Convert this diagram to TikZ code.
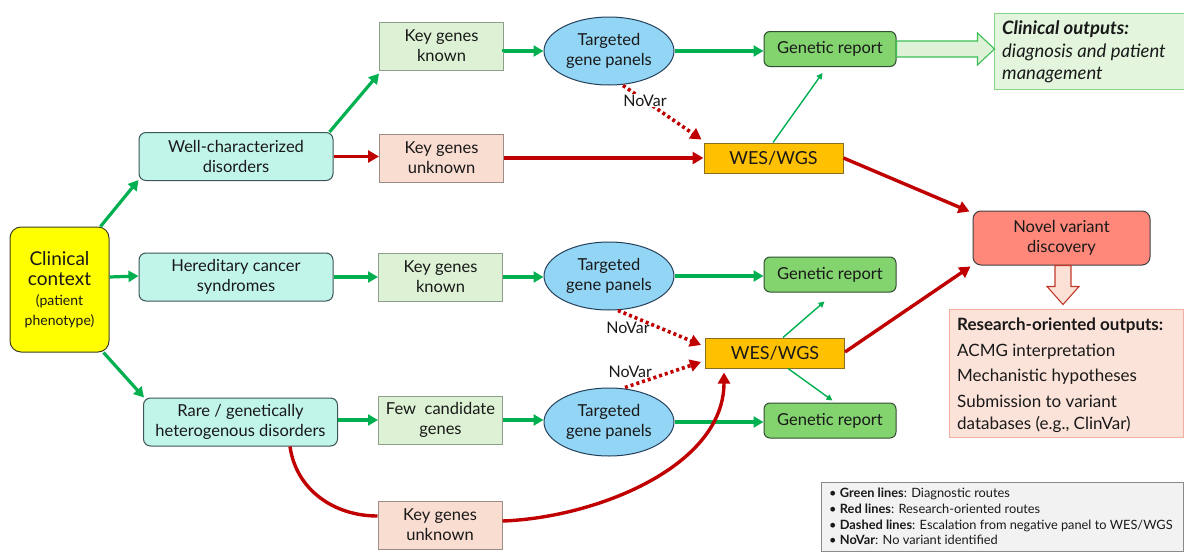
\documentclass[tikz,border=0pt]{standalone}
\usepackage{fontspec}
\setmainfont{Lato}
\usetikzlibrary{arrows.meta,shapes.geometric,calc}

\definecolor{gline}{HTML}{00B050}
\definecolor{rline}{HTML}{C00000}
\definecolor{catfill}{HTML}{C2F5EA}
\definecolor{catbd}{HTML}{3B5656}
\definecolor{kgkfill}{HTML}{DDF1D4}
\definecolor{kgkbd}{HTML}{8E9E8A}
\definecolor{kgufill}{HTML}{F9DDD1}
\definecolor{kgubd}{HTML}{9A8C86}
\definecolor{tpfill}{HTML}{93D5F5}
\definecolor{tpbd}{HTML}{24405A}
\definecolor{repfill}{HTML}{83D36F}
\definecolor{repbd}{HTML}{2F4F2F}
\definecolor{wesfill}{HTML}{FFC000}
\definecolor{wesbd}{HTML}{8C6E22}
\definecolor{novfill}{HTML}{FF887A}
\definecolor{novbd}{HTML}{404040}
\definecolor{ctxfill}{HTML}{FFFF00}
\definecolor{ctxbd}{HTML}{404020}
\definecolor{coutfill}{HTML}{E3F5DD}
\definecolor{coutbd}{HTML}{86D486}
\definecolor{harrfill}{HTML}{DDF2D6}
\definecolor{harrbd}{HTML}{3CBF55}
\definecolor{resfill}{HTML}{FCE3D9}
\definecolor{resbd}{HTML}{F2B0A5}
\definecolor{darrfill}{HTML}{FBE0D6}
\definecolor{darrbd}{HTML}{C0392B}
\definecolor{legfill}{HTML}{F2F2F2}
\definecolor{legbd}{HTML}{8A8A8A}

\newcommand{\ctxbig}{\fontsize{19}{23}\selectfont}
\newcommand{\ctxsmall}{\fontsize{14}{19}\selectfont}

\begin{document}
\begin{tikzpicture}[x=1pt,y=-1pt,
  base/.style={font=\fontsize{16.5}{20}\selectfont, align=center, inner sep=0pt, line width=1pt, text=black!90},
  cat/.style={base, draw=catbd, fill=catfill, rounded corners=7pt, minimum width=194pt, minimum height=48pt},
  kgk/.style={base, draw=kgkbd, fill=kgkfill, minimum width=124pt, minimum height=48pt},
  kgu/.style={base, draw=kgubd, fill=kgufill, minimum width=124pt, minimum height=48pt},
  tp/.style={base, ellipse, draw=tpbd, fill=tpfill, minimum width=130pt, minimum height=68pt},
  rep/.style={base, draw=repbd, fill=repfill, rounded corners=6pt, minimum width=132pt, minimum height=35pt},
  wes/.style={base, font=\fontsize{18}{20}\selectfont, draw=wesbd, fill=wesfill, minimum width=139pt, minimum height=30pt},
  garrow/.style={draw=gline, line width=3.2pt, -{Triangle[length=10pt,width=11pt]}},
  gthin/.style={draw=gline, line width=1.4pt, -{Triangle[length=6pt,width=6pt]}},
  rarrow/.style={draw=rline, line width=3.4pt, -{Triangle[length=11pt,width=12pt]}},
  rcurve/.style={draw=rline, line width=3.4pt},
  rdot/.style={draw=rline, line width=3.6pt, dash pattern=on 3pt off 3pt, -{Triangle[length=11pt,width=12pt]}},
  novar/.style={font=\fontsize{16}{18}\selectfont, inner sep=1pt, text=black!90}
]
\useasboundingbox (0,0) rectangle (1184,554);

% ---------- left column ----------
\node[base, draw=ctxbd, fill=ctxfill, rounded corners=11pt, minimum width=99pt, minimum height=125pt]
  (ctx) at (59.5,289.5)
  {\ctxbig Clinical\\\ctxbig context\\\ctxsmall (patient\\\ctxsmall phenotype)};

\node[cat] (well)  at (236,156.5) {Well-characterized\\disorders};
\node[cat] (hered) at (236,277)   {Hereditary cancer\\syndromes};
\node[cat] (rare)  at (240.5,422) {Rare / genetically\\heterogenous disorders};

% ---------- gene knowledge ----------
\node[kgk] (kgk1) at (441.5,46)  {Key genes\\known};
\node[kgu] (kgu1) at (441.5,158) {Key genes\\unknown};
\node[kgk] (kgk2) at (440.5,277) {Key genes\\known};
\node[kgk] (few)  at (440.5,420) {Few\ \ candidate\\genes};
\node[kgu] (kgu2) at (440,525)   {Key genes\\unknown};

% ---------- testing ----------
\node[tp] (tp1) at (609,51)  {Targeted\\gene panels};
\node[tp] (tp2) at (609,276) {Targeted\\gene panels};
\node[tp] (tp3) at (609,422) {Targeted\\gene panels};

\node[wes] (wes1) at (773.5,158) {WES/WGS};
\node[wes] (wes2) at (775,353)   {WES/WGS};

\node[rep] (rep1) at (830,49)    {Genetic report};
\node[rep] (rep2) at (830,274.5) {Genetic report};
\node[rep] (rep3) at (830,420.5) {Genetic report};

% ---------- outputs ----------
\node[base, draw=novbd, fill=novfill, rounded corners=8pt, minimum width=177pt, minimum height=54pt]
  (novel) at (1061.5,238) {Novel variant\\discovery};

\node[base, draw=coutbd, fill=coutfill, minimum width=190pt, minimum height=76pt] (cout) at (1089,51) {};
\node[font=\fontsize{18.5}{22.5}\selectfont\itshape, align=left, anchor=north west, inner sep=0pt, text=black!90]
  (couttext) at (1002,21) {\textbf{Clinical outputs:}\\diagnosis and patient\\management};

\node[base, draw=resbd, fill=resfill, minimum width=234pt, minimum height=128pt] (res) at (1066.5,373) {};
\node[font=\fontsize{17}{22}\selectfont, align=left, anchor=north west, inner sep=0pt, text=black!90]
  (restext) at (957,318) {\textbf{Research-oriented outputs:}\\[3.5pt]ACMG interpretation\\[3.5pt]Mechanistic hypotheses\\[3.5pt]Submission to variant\\databases (e.g., ClinVar)};

\node[base, draw=legbd, fill=legfill, minimum width=362pt, minimum height=69pt] (leg) at (1002,516.5) {};
\node[font=\fontsize{12.8}{15.8}\selectfont, align=left, anchor=west, inner sep=0pt, text=black!90]
  (legtext) at (829,516.5) {\textbullet\ \textbf{Green lines}: Diagnostic routes\\
  \textbullet\ \textbf{Red lines}: Research-oriented routes\\
  \textbullet\ \textbf{Dashed lines}: Escalation from negative panel to WES/WGS\\
  \textbullet\ \textbf{NoVar}: No variant identified};

% ---------- hollow block arrows ----------
\coordinate (ha) at (rep1.east);
\coordinate (ht) at (cout.west |- rep1.east);
\draw[draw=harrbd, fill=harrfill, line width=1.1pt, line join=miter]
  ($(ha)+(0,-8)$) -- ($(ht)+(-16,-8)$) -- ($(ht)+(-16,-16)$) -- ($(ht)+(1,0)$)
  -- ($(ht)+(-16,16)$) -- ($(ht)+(-16,8)$) -- ($(ha)+(0,8)$) -- cycle;

\coordinate (da) at ($(novel.south)+(1.5,0)$);
\coordinate (dt) at ($(da |- res.north)+(0,-4)$);
\draw[draw=darrbd, fill=darrfill, line width=1.1pt, line join=miter]
  ($(da)+(-8,0)$) -- ($(dt)+(-8,-18)$) -- ($(dt)+(-16,-18)$) -- (dt)
  -- ($(dt)+(16,-18)$) -- ($(dt)+(8,-18)$) -- ($(da)+(8,0)$) -- cycle;

% ---------- green routes ----------
\draw[garrow] ($(ctx.north east)+(-9,0)$) -- ($(well.south west)+(0,-1)$);
\draw[garrow] (ctx.east |- hered.west) -- ($(hered.west)+(0,-1)$);
\draw[garrow] ($(ctx.south east)+(-6,0)$) -- ($(rare.north west)+(1,0)$);
\draw[garrow] ($(well.north east)+(-4,0)$) -- ($(kgk1.south west)+(0,3)$);
\draw[garrow] (hered.east) -- (kgk2.west);
\draw[garrow] (rare.east |- few.west) -- (few.west);

\draw[garrow] ($(kgk1.east)+(0,6)$) -- (kgk1.east |- tp1.west) -- (tp1.west);
\draw[garrow] (tp1.east) -- (tp1.east -| rep1.west);
\draw[garrow] (kgk2.east) -- (kgk2.east -| tp2.west);
\draw[garrow] (tp2.east) -- (tp2.east -| rep2.west);
\draw[garrow] (few.east) -- (few.east -| tp3.west);
\draw[garrow] (tp3.east) -- (tp3.east -| rep3.west);

\draw[gthin] ($(wes1.north)+(-0.5,0)$) -- ($(rep1.south west)+(59,6)$);
\draw[gthin] ($(wes2.north)+(8,0)$) -- ($(rep2.south west)+(61,9)$);
\draw[gthin] ($(wes2.south)+(13,0)$) -- ($(rep3.north west)+(69,-2)$);

% ---------- red routes ----------
\draw[rarrow] (well.east) -- (well.east -| kgu1.west);
\draw[rarrow] (kgu1.east) -- (kgu1.east -| wes1.west);
\draw[rcurve] ($(rare.south east)+(-48,0)$) to[out=-82,in=180] ($(kgu2.west)+(0,-9)$);
\draw[rarrow] ($(kgu2.east)+(0,-4)$) to[out=2,in=-90,looseness=0.9] ($(wes2.south west)+(19,4)$);
\draw[rarrow] (wes1.east) -- ($(novel.north west)+(-3,1)$);
\draw[rarrow] ($(wes2.east)+(0,-1)$) -- ($(novel.south west)+(-2,1)$);

% ---------- escalation after a negative panel ----------
\draw[rdot] ($(tp1.south)+(14,0)$) -- ($(wes1.north west)+(-2,-3)$)
  node[novar, pos=0.28, fill=white] (nv1) {NoVar};
\draw[rdot] ($(tp2.south)+(9,0)$) -- ($(wes2.west)+(-4,-8)$)
  node[novar, pos=0.12, anchor=north, yshift=-5pt] (nv2) {NoVar};
\draw[rdot] ($(tp3.north)+(16,0)$) -- ($(wes2.west)+(-4,9)$)
  node[novar, pos=0.07, anchor=south, yshift=5pt] (nv3) {NoVar};
\end{tikzpicture}
\end{document}
